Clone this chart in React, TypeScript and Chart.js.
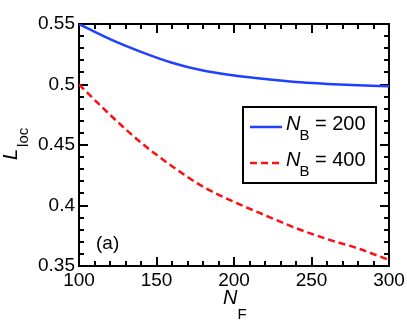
import React, { useEffect, useRef } from "react";
import { Chart, registerables } from "chart.js";

Chart.register(...registerables);

const nF = [100, 120, 140, 160, 180, 200, 220, 240, 260, 280, 300];
const lB200 = [0.55, 0.5375, 0.527, 0.518, 0.5115, 0.5075, 0.5045, 0.502, 0.5005, 0.4993, 0.4985];
const lB400 = [0.5, 0.475, 0.452, 0.4325, 0.4155, 0.403, 0.392, 0.3813, 0.3723, 0.3645, 0.355];
const legendLabels = ["200", "400"];
const yTicks = { min: 0.35, max: 0.55, step: 0.05, minor: 0.01 };
const xTicks = { min: 100, max: 300, step: 50, minor: 10 };
const panelLabel = "(a)";

const FONT = "'Liberation Sans', Arial, Helvetica, sans-serif";
const BLUE = "#2040ff";
const RED = "#ff1010";

const decorPlugin = {
  id: "decor",
  beforeDatasetsDraw(chart: any) {
    const { ctx, chartArea } = chart;
    const { left, right, top, bottom } = chartArea;
    const xs = chart.scales.x;
    const ys = chart.scales.y;
    ctx.save();
    ctx.strokeStyle = "#000";
    ctx.lineWidth = 2;
    ctx.beginPath();
    const nY = Math.round((yTicks.max - yTicks.min) / yTicks.minor);
    for (let i = 0; i <= nY; i++) {
      const v = yTicks.min + i * yTicks.minor;
      const py = Math.round(ys.getPixelForValue(v));
      const len = i % 5 === 0 ? 9 : 5;
      ctx.moveTo(left, py);
      ctx.lineTo(left + len, py);
      ctx.moveTo(right, py);
      ctx.lineTo(right - len, py);
    }
    const nX = Math.round((xTicks.max - xTicks.min) / xTicks.minor);
    for (let i = 0; i <= nX; i++) {
      const v = xTicks.min + i * xTicks.minor;
      const px = Math.round(xs.getPixelForValue(v));
      const len = i % 5 === 0 ? 9 : 5;
      ctx.moveTo(px, bottom);
      ctx.lineTo(px, bottom - len);
      ctx.moveTo(px, top);
      ctx.lineTo(px, top + len);
    }
    ctx.stroke();
    ctx.lineWidth = 2;
    ctx.strokeRect(left, top, right - left, bottom - top);
    ctx.restore();
  },
  afterDraw(chart: any) {
    const { ctx } = chart;
    ctx.save();
    ctx.fillStyle = "#000";
    ctx.textBaseline = "alphabetic";
    ctx.textAlign = "left";

    // x title N_F
    ctx.font = `italic 20px ${FONT}`;
    ctx.fillText("N", 223, 304);
    const nW = ctx.measureText("N").width;
    ctx.font = `15px ${FONT}`;
    ctx.fillText("F", 223 + nW, 319);

    // y title L_loc
    ctx.save();
    ctx.translate(17, 160);
    ctx.rotate(-Math.PI / 2);
    ctx.font = `italic 20px ${FONT}`;
    ctx.fillText("L", 0, 0);
    const lW = ctx.measureText("L").width;
    ctx.font = `15px ${FONT}`;
    ctx.fillText("loc", lW + 2, 11);
    ctx.restore();

    // panel label
    ctx.font = `19px ${FONT}`;
    ctx.fillText(panelLabel, 96, 249);

    // legend
    const bx = 243, by = 107, bw = 133, bh = 76;
    ctx.fillStyle = "#fff";
    ctx.fillRect(bx, by, bw, bh);
    ctx.strokeStyle = "#000";
    ctx.lineWidth = 2;
    ctx.strokeRect(bx, by, bw, bh);
    const entries = [
      { color: BLUE, dash: [] as number[], lineY: 127, base: 130, label: legendLabels[0] },
      { color: RED, dash: [7, 4], lineY: 163, base: 166, label: legendLabels[1] },
    ];
    for (const e of entries) {
      ctx.strokeStyle = e.color;
      ctx.lineWidth = 2.5;
      ctx.setLineDash(e.dash);
      ctx.beginPath();
      ctx.moveTo(250, e.lineY);
      ctx.lineTo(282, e.lineY);
      ctx.stroke();
      ctx.setLineDash([]);
      ctx.fillStyle = "#000";
      ctx.font = `italic 20px ${FONT}`;
      ctx.fillText("N", 286, e.base);
      const w = ctx.measureText("N").width;
      ctx.font = `15px ${FONT}`;
      ctx.fillText("B", 286 + w - 1, e.base + 10);
      ctx.font = `20px ${FONT}`;
      ctx.fillText("= " + e.label, 315, e.base);
    }
    ctx.restore();
  },
};

export default function App() {
  const ref = useRef<HTMLCanvasElement>(null);
  useEffect(() => {
    const canvas = ref.current!;
    const chart = new Chart(canvas, {
      type: "line",
      data: {
        datasets: [
          {
            label: "NB = 200",
            data: nF.map((x, i) => ({ x, y: lB200[i] })),
            borderColor: BLUE,
            borderWidth: 2.5,
            pointRadius: 0,
            cubicInterpolationMode: "monotone",
            fill: false,
          },
          {
            label: "NB = 400",
            data: nF.map((x, i) => ({ x, y: lB400[i] })),
            borderColor: RED,
            borderWidth: 2.5,
            borderDash: [7, 4],
            pointRadius: 0,
            cubicInterpolationMode: "monotone",
            fill: false,
          },
        ],
      },
      options: {
        responsive: false,
        animation: false,
        layout: { padding: { top: 24, right: 18, left: 0, bottom: 0 } },
        plugins: { legend: { display: false }, tooltip: { enabled: false } },
        scales: {
          x: {
            type: "linear",
            min: xTicks.min,
            max: xTicks.max,
            grid: { display: false, drawTicks: false, tickLength: 0 },
            border: { display: false },
            ticks: {
              stepSize: xTicks.step,
              color: "#000",
              font: { family: FONT, size: 19, lineHeight: 1 },
              padding: 5,
              maxRotation: 0,
            },
            afterFit: (s: any) => {
              s.height = 61;
              s.paddingLeft = 0;
              s.paddingRight = 0;
            },
          },
          y: {
            type: "linear",
            min: yTicks.min,
            max: yTicks.max,
            grid: { display: false, drawTicks: false, tickLength: 0 },
            border: { display: false },
            ticks: {
              stepSize: yTicks.step,
              color: "#000",
              font: { family: FONT, size: 19 },
              padding: 4,
              callback: (v: any) => String(parseFloat(Number(v).toFixed(2))),
            },
            afterFit: (s: any) => {
              s.width = 79;
              s.paddingTop = 0;
              s.paddingBottom = 0;
            },
          },
        },
      },
      plugins: [decorPlugin],
    });
    return () => chart.destroy();
  }, []);
  return (
    <div style={{ position: "absolute", left: 0, top: 0, width: 407, height: 327, background: "#fff" }}>
      <canvas ref={ref} width={407} height={327} />
    </div>
  );
}
